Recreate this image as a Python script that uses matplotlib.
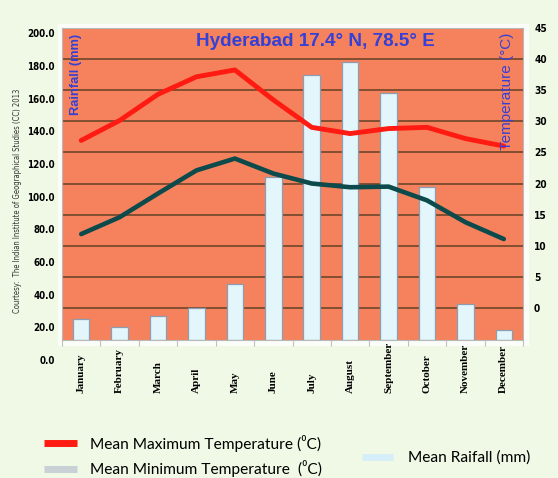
import matplotlib
matplotlib.use("Agg")
import matplotlib.pyplot as plt
from matplotlib.patches import Rectangle
from matplotlib.lines import Line2D
import numpy as np

months = ["January", "February", "March", "April", "May", "June", "July",
          "August", "September", "October", "November", "December"]
rainfall_mm = [13.3, 8.0, 15.0, 20.1, 35.7, 104.0, 169.5, 178.0, 158.0, 97.6, 22.5, 5.9]
max_temp_c = [26.9, 30.1, 34.3, 37.1, 38.2, 33.4, 29.0, 28.0, 28.8, 29.0, 27.2, 26.0]
min_temp_c = [11.9, 14.6, 18.4, 22.1, 24.0, 21.6, 20.0, 19.4, 19.5, 17.3, 13.8, 11.1]
rain_ticks = list(range(0, 201, 20))
temp_ticks = list(range(0, 46, 5))

W, H = 558, 478
DPI = 100
fig = plt.figure(figsize=(W / DPI, H / DPI), dpi=DPI)
fig.patch.set_facecolor("#f0f9e6")

def fx(px):
    return px / W

def fy(py):
    return 1 - py / H

# white frame behind plot
fig.patches.append(Rectangle((fx(58), fy(346)), fx(529) - fx(58), fy(24) - fy(346),
                             transform=fig.transFigure, facecolor="#fbfdf8",
                             edgecolor="none", zorder=-5))

narrow = dict(fontfamily=["DejaVu Sans"], fontstretch="condensed", fontweight="bold")

L, R, T, B = 62, 523, 27.5, 339.5
ax = fig.add_axes([fx(L), fy(B), fx(R) - fx(L), fy(T) - fy(B)])
ax.set_facecolor("#f5825d")
x = np.arange(len(months))
ax.set_xlim(-0.5, len(months) - 0.5)
ax.set_ylim(0, 200)
for v in rain_ticks[1:-1]:
    ax.axhline(v, color="#7a4b2e", lw=1.3, zorder=1)
ax.bar(x, rainfall_mm, width=0.43, color="#e2f6fb", edgecolor="#8d9cb2",
       linewidth=0.9, zorder=2)
for s in ax.spines.values():
    s.set_color("#b8b8b8")
    s.set_linewidth(0.8)
ax.set_yticks([])
ax.set_xticks(x)
ax.set_xticklabels(months, rotation=90, va="bottom", ha="center",
                   fontfamily=["Liberation Serif", "DejaVu Serif"],
                   fontweight="bold", fontsize=8.0)
ax.tick_params(axis="x", which="major", length=0, pad=(393 - B) * 72 / DPI)
ax.set_xticks(np.arange(-0.5, len(months) + 0.5, 1.0), minor=True)
ax.tick_params(axis="x", which="minor", length=4, color="#c0c0c0", width=0.8)

ax2 = ax.twinx()
ax2.set_ylim(-5, 45)
ax2.plot(x, max_temp_c, color="#ff1a12", lw=3.5, solid_capstyle="round",
         solid_joinstyle="round", zorder=3)
ax2.plot(x, min_temp_c, color="#0c4a4c", lw=3.3, solid_capstyle="round",
         solid_joinstyle="round", zorder=3)
ax2.set_yticks(temp_ticks)
ax2.set_yticklabels([str(t) for t in temp_ticks], fontsize=7.3, **narrow)
ax2.tick_params(axis="y", length=0, pad=8)
for s in ax2.spines.values():
    s.set_visible(False)

# left rainfall labels axis (offset as in reference)
axl = fig.add_axes([fx(56), fy(360), 0.0001, fy(33.3) - fy(360)])
axl.set_ylim(0, 200)
axl.set_yticks(rain_ticks)
axl.set_yticklabels([f"{v:.1f}" for v in rain_ticks], fontsize=7.0, **narrow)
axl.tick_params(axis="y", length=0, pad=1)
axl.set_xticks([])
axl.patch.set_visible(False)
for s in axl.spines.values():
    s.set_visible(False)

blue = "#3440d6"
fig.text(fx(315), fy(41), "Hyderabad 17.4° N, 78.5° E", color=blue,
         fontfamily=["Liberation Sans", "DejaVu Sans"], fontweight="bold",
         fontsize=13.6, ha="center", va="center")
fig.text(fx(76), fy(74), "Rainfall (mm)", color=blue, rotation=90,
         fontfamily=["Liberation Sans", "DejaVu Sans"], fontweight="bold",
         fontsize=9.3, ha="center", va="center")
fig.text(fx(507), fy(91), "Temperature (°C)", color=blue, rotation=90,
         fontfamily=["Liberation Sans", "DejaVu Sans"],
         fontsize=11, ha="center", va="center")
fig.text(fx(18), fy(201), "Courtesy:  The Indian Institute of Geographical Studies (CC) 2013",
         color="#333333", rotation=90, fontfamily=["DejaVu Sans"],
         fontstretch="condensed", fontsize=5.5, ha="center", va="center")

# legends
leg_font = {"family": ["Lato", "DejaVu Sans"], "size": 11.2}
fs_px = 11.2 * DPI / 72
h1 = [Line2D([], [], color="#ff1a12", lw=5, solid_capstyle="butt"),
      Line2D([], [], color="#c9d0d6", lw=5, solid_capstyle="butt")]
fig.legend(h1, ["Mean Maximum Temperature (\u2070C)",
                "Mean Minimum Temperature  (\u2070C)"],
           loc="center left", bbox_to_anchor=(fx(44), fy(456)),
           frameon=False, prop=leg_font, handlelength=33 / fs_px,
           handletextpad=13 / fs_px, labelspacing=0.55,
           borderaxespad=0, borderpad=0)
h2 = [Line2D([], [], color="#d6eef9", lw=5, solid_capstyle="butt")]
fig.legend(h2, ["Mean Raifall (mm)"],
           loc="center left", bbox_to_anchor=(fx(362), fy(458)),
           frameon=False, prop=leg_font, handlelength=31 / fs_px,
           handletextpad=15 / fs_px, borderaxespad=0, borderpad=0)

fig.savefig("out.png", dpi=DPI, facecolor=fig.get_facecolor())
